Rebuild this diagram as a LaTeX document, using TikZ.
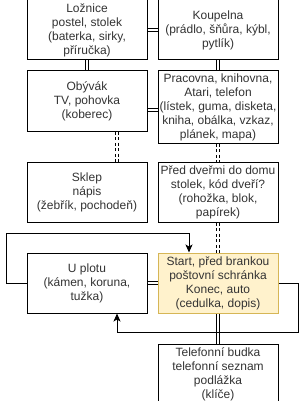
\documentclass[tikz,border=0pt]{standalone}
\usepackage{fontspec}
\setmainfont{Liberation Sans}
\usepackage{tikz}
\usepackage{xcolor}
\usetikzlibrary{arrows.meta,positioning}
\definecolor{startfill}{HTML}{FFF2CC}
\definecolor{startdraw}{HTML}{D6B656}
\begin{document}
\begin{tikzpicture}[
      x=1pt,y=1pt,
      node distance=10pt and 10pt,
      room/.style={rectangle,draw=black,fill=white,line width=1pt,align=center,minimum width=120pt,minimum height=60pt,inner sep=1pt,text=black!80,font=\fontsize{12pt}{14pt}\selectfont},
      startroom/.style={room,draw=startdraw,fill=startfill},
      door/.style={draw=black,line width=0.9pt,double=white,double distance=2.4pt},
      stairs/.style={door,dash pattern=on 3pt off 2.5pt},
      arrow/.style={-{Stealth[length=8pt,width=7pt,inset=2pt]},line width=1pt}
    ]
    \useasboundingbox (0,0) rectangle (306,-401);
    \node[room] (lozn) at (87,-30) {Ložnice\\postel, stolek\\(baterka, sirky,\\příručka)};
    \node[room,right=of lozn] (koup) {Koupelna\\(prádlo, šňůra, kýbl,\\pytlík)};
    \node[room,below=of lozn] (obyv) {Obývák\\TV, pohovka\\(koberec)};
    \node[room,below=of koup,minimum height=72pt] (prac) {Pracovna, knihovna,\\Atari, telefon\\(lístek, guma, disketa,\\kniha, obálka, vzkaz,\\plánek, mapa)};
    \node[room,below=30pt of obyv] (sklep) {Sklep\\nápis\\(žebřík, pochodeň)};
    \node[room,right=of sklep] (predd) {Před dveřmi do domu\\stolek, kód dveří?\\(rohožka, blok,\\papírek)};
    \node[room,below=30pt of sklep] (plot) {U plotu\\(kámen, koruna,\\tužka)};
    \node[startroom,right=of plot] (start) {Start, před brankou\\poštovní schránka\\Konec, auto\\(cedulka, dopis)};
    \node[room,below=30pt of start] (telef) {Telefonní budka\\telefonní seznam\\podlážka\\(klíče)};
    \draw[door] (lozn) -- (koup);
    \draw[door] (lozn) -- (obyv);
    \draw[door] (koup) -- (prac);
    \draw[door] ([yshift=-3pt]prac.west) -- ([yshift=-3pt]prac.west -| obyv.east);
    \draw[stairs] ([xshift=30pt]obyv.south) -- ([xshift=30pt]sklep.north);
    \draw[stairs] (prac) -- (predd);
    \draw[stairs] (predd) -- (start);
    \draw[door] (plot) -- (start);
    \draw[door] (start) -- (telef);
    \draw[arrow] (plot.west) -- ++(-20,0) |- ([xshift=-29pt,yshift=19pt]start.north) -- ([xshift=-29pt]start.north);
    \draw[arrow] (start.east) -- ++(20,0) |- ([xshift=30pt,yshift=-19pt]plot.south) -- ([xshift=30pt]plot.south);
  \end{tikzpicture}
\end{document}
